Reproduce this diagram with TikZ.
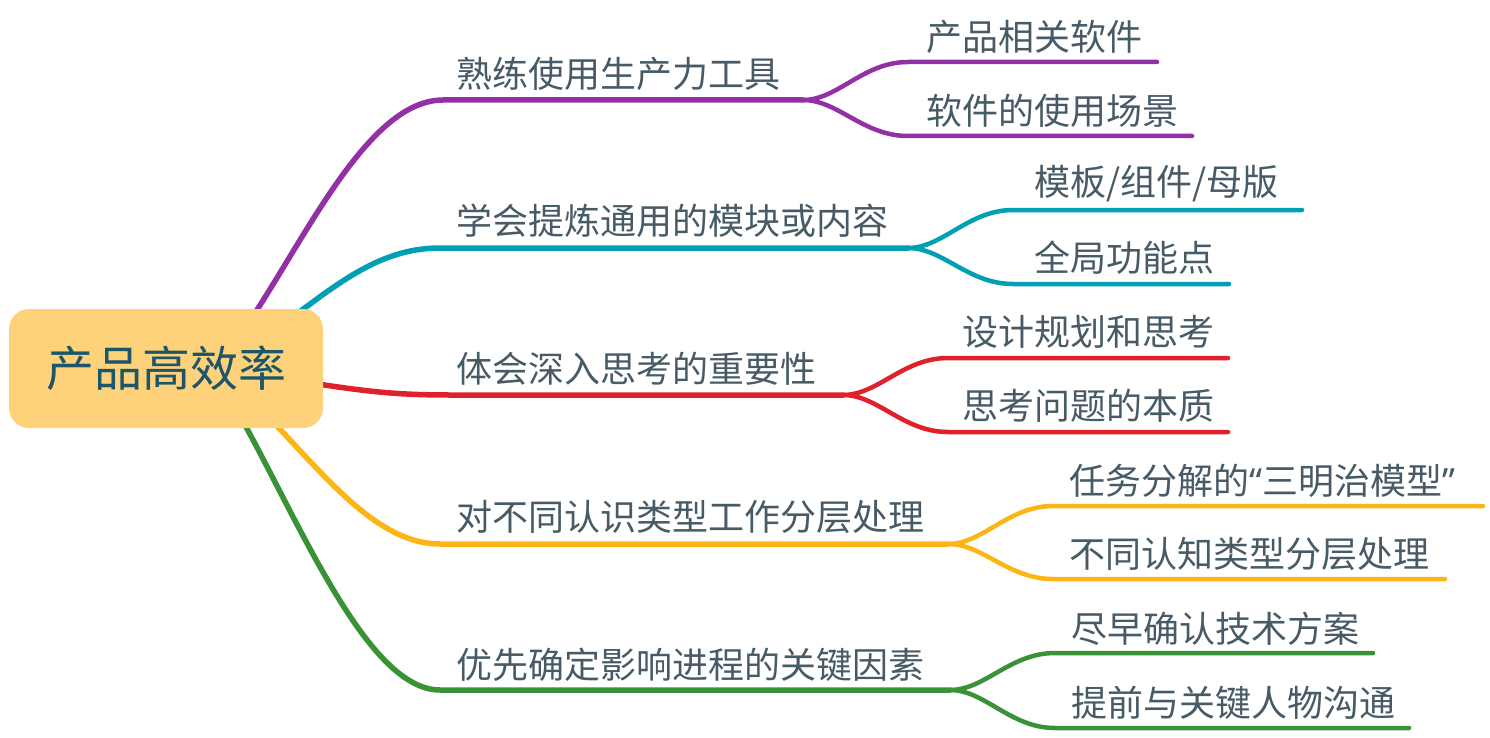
\documentclass[tikz,border=0pt]{standalone}
\usepackage{fontspec}
\setmainfont{Noto Sans CJK SC}
\newfontfamily\latinq{Noto Sans}
\definecolor{txt}{HTML}{475B66}
\definecolor{roottxt}{HTML}{1F5568}
\definecolor{rootfill}{HTML}{FDD27B}
\definecolor{cpurple}{HTML}{9330A6}
\definecolor{cteal}{HTML}{00A0B4}
\definecolor{cred}{HTML}{E0202A}
\definecolor{cyellow}{HTML}{FDB515}
\definecolor{cgreen}{HTML}{3A9236}
\begin{document}
\begin{tikzpicture}[x=1pt,y=-1pt,
  lbl/.style={anchor=west,inner sep=0pt,text=txt,font=\fontsize{36}{40}\selectfont},
  rootbox/.style={fill=rootfill,rounded corners=20pt,minimum width=314pt,minimum height=119pt,inner sep=0pt,text=roottxt,font=\fontsize{48}{52}\selectfont},
  mainbr/.style={line width=5.5pt,line cap=round},
  subbr/.style={line width=4.5pt,line cap=round}]
\path[use as bounding box] (0,0) rectangle (1490,738);
% start points (hidden under the root box)
\coordinate (s1) at (255,313);
\coordinate (s2) at (298,313);
\coordinate (s3) at (318,384);
\coordinate (s4) at (276,425);
\coordinate (s5) at (245,425);
% fork points
\coordinate (f1) at (803,100);
\coordinate (f2) at (908,248);
\coordinate (f3) at (843,395);
\coordinate (f4) at (948,544);
\coordinate (f5) at (950,690);
% leaf ends
\coordinate (e11) at (1157,62);
\coordinate (e12) at (1192,136);
\coordinate (e21) at (1302,210);
\coordinate (e22) at (1229,284);
\coordinate (e31) at (1228,358);
\coordinate (e32) at (1228,432);
\coordinate (e41) at (1483,506);
\coordinate (e42) at (1445,579);
\coordinate (e51) at (1373,653);
\coordinate (e52) at (1409,728);
% main branches
\draw[mainbr,cpurple] (s1) .. controls (312,225) and (372,100) .. (443,100) -- (f1);
\draw[mainbr,cteal] (s2) .. controls (345,278) and (385,248) .. (440,248) -- (f2);
\draw[mainbr,cred] (s3) .. controls (370,392) and (400,395) .. (450,395) -- (f3);
\draw[mainbr,cyellow] (s4) .. controls (330,482) and (380,544) .. (440,544) -- (f4);
\draw[mainbr,cgreen] (s5) .. controls (305,535) and (370,690) .. (440,690) -- (f5);
% sub branches
\draw[subbr,cpurple] (f1) .. controls ++(35,0) and ++(-45,0) .. (908,62) -- (e11);
\draw[subbr,cpurple] (f1) .. controls ++(35,0) and ++(-45,0) .. (908,136) -- (e12);
\draw[subbr,cteal] (f2) .. controls ++(35,0) and ++(-45,0) .. (1013,210) -- (e21);
\draw[subbr,cteal] (f2) .. controls ++(35,0) and ++(-45,0) .. (1013,284) -- (e22);
\draw[subbr,cred] (f3) .. controls ++(35,0) and ++(-45,0) .. (948,358) -- (e31);
\draw[subbr,cred] (f3) .. controls ++(35,0) and ++(-45,0) .. (948,432) -- (e32);
\draw[subbr,cyellow] (f4) .. controls ++(35,0) and ++(-45,0) .. (1053,506) -- (e41);
\draw[subbr,cyellow] (f4) .. controls ++(35,0) and ++(-45,0) .. (1053,579) -- (e42);
\draw[subbr,cgreen] (f5) .. controls ++(35,0) and ++(-45,0) .. (1055,653) -- (e51);
\draw[subbr,cgreen] (f5) .. controls ++(35,0) and ++(-45,0) .. (1055,728) -- (e52);
% root
\node[rootbox] (root) at (166,368.5) {产品高效率};
% labels
\node[lbl] (t1) at (456,74) {熟练使用生产力工具};
\node[lbl] (t11) at (926,37) {产品相关软件};
\node[lbl] (t12) at (926,111) {软件的使用场景};
\node[lbl] (t2) at (456,221) {学会提炼通用的模块或内容};
\node[lbl] (t21) at (1034,184) {模板/组件/母版};
\node[lbl] (t22) at (1034,258) {全局功能点};
\node[lbl] (t3) at (456,369) {体会深入思考的重要性};
\node[lbl] (t31) at (962,332) {设计规划和思考};
\node[lbl] (t32) at (962,406) {思考问题的本质};
\node[lbl] (t4) at (456,517) {对不同认识类型工作分层处理};
\node[lbl] (t41) at (1069,481) {任务分解的{\latinq “}三明治模型{\latinq ”}};
\node[lbl] (t42) at (1069,554) {不同认知类型分层处理};
\node[lbl] (t5) at (456,665) {优先确定影响进程的关键因素};
\node[lbl] (t51) at (1071,629) {尽早确认技术方案};
\node[lbl] (t52) at (1071,703) {提前与关键人物沟通};
\end{tikzpicture}
\end{document}
